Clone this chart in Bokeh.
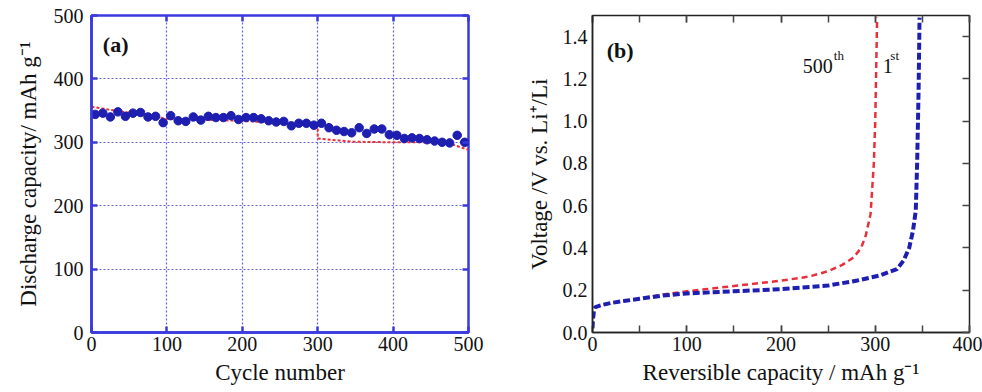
from bokeh.plotting import figure
from bokeh.layouts import row
from bokeh.models import Range1d, LinearAxis, FixedTicker, SingleIntervalTicker, PrintfTickFormatter
from bokeh.embed import file_html
from bokeh.resources import INLINE
from bokeh.core.properties import value

# ---------------- data: panel (a) ----------------
cycles = [5, 15, 25, 35, 45, 55, 65, 75, 85, 95,
          105, 115, 125, 135, 145, 155, 165, 175, 185, 195,
          205, 215, 225, 235, 245, 255, 265, 275, 285, 295,
          305, 315, 325, 335, 345, 355, 365, 375, 385, 395,
          405, 415, 425, 435, 445, 455, 465, 475, 485, 495]
discharge = [344, 346, 340, 348, 341, 346, 347, 340, 341, 331,
             342, 334, 333, 340, 335, 341, 339, 339, 342, 336,
             339, 339, 337, 334, 332, 333, 326, 330, 330, 327,
             330, 323, 319, 317, 315, 323, 314, 321, 321, 312,
             311, 306, 307, 306, 304, 302, 300, 299, 311, 300]
ref_cycles = [0, 100, 200, 300, 300, 345, 400, 470, 500]
ref_capacity = [356, 337, 334, 326, 306, 301, 300, 300, 288]

# ---------------- data: panel (b) ----------------
cap_500 = [0, 0.5, 1.5, 3, 10, 20, 35, 50, 75, 100, 150, 200, 230, 250, 265, 277, 285, 290, 295, 298.5, 300, 301, 302]
volt_500 = [0.02, 0.06, 0.10, 0.12, 0.13, 0.14, 0.15, 0.16, 0.18, 0.195, 0.22, 0.245, 0.265, 0.29, 0.32, 0.355, 0.40, 0.46, 0.56, 0.80, 1.0, 1.25, 1.49]
cap_1 = [0, 0.5, 1.5, 3, 10, 20, 35, 50, 75, 100, 150, 200, 250, 281, 305, 323, 330, 336, 340, 343, 344.5, 346, 347]
volt_1 = [0.02, 0.06, 0.10, 0.12, 0.13, 0.14, 0.15, 0.16, 0.175, 0.185, 0.195, 0.205, 0.222, 0.246, 0.27, 0.30, 0.34, 0.40, 0.48, 0.577, 0.81, 1.15, 1.49]

x_ticks_a = [0, 100, 200, 300, 400, 500]
y_ticks_a = [0, 100, 200, 300, 400, 500]
y_ticks_b = [0.0, 0.2, 0.4, 0.6, 0.8, 1.0, 1.2, 1.4]

SERIF = "Liberation Serif, Times New Roman, serif"
BLUE_FRAME = "#3a3adf"
BLUE_GRID = "#5050d8"
BLUE_MARK = "#1e1eb0"
RED = "#e8303a"


def blank_labels(ticks):
    return {t: "" for t in ticks}


# ---------------- panel (a) ----------------
p1 = figure(width=490, height=392, output_backend="svg", toolbar_location=None,
            x_range=Range1d(0, 500), y_range=Range1d(0, 500),
            min_border_left=91, min_border_right=22, min_border_top=14, min_border_bottom=59)
p1.outline_line_color = BLUE_FRAME
p1.outline_line_width = 2.5
p1.outline_line_alpha = 1

for ax in (p1.xaxis[0], p1.yaxis[0]):
    ax.axis_line_color = BLUE_FRAME
    ax.axis_line_width = 2.5
    ax.major_tick_line_color = BLUE_FRAME
    ax.major_tick_line_width = 2.5
    ax.major_tick_in = 6
    ax.major_tick_out = 0
    ax.minor_tick_line_color = None
    ax.major_label_text_font = SERIF
    ax.major_label_text_font_size = "20px"
    ax.major_label_text_color = "#111111"
    ax.axis_label_text_font = SERIF
    ax.axis_label_text_font_size = "23px"
    ax.axis_label_text_font_style = "normal"
    ax.axis_label_text_color = "#111111"
p1.xaxis.ticker = FixedTicker(ticks=x_ticks_a)
p1.yaxis.ticker = FixedTicker(ticks=y_ticks_a)
p1.xaxis.axis_label = "Cycle number"
p1.yaxis.axis_label = "Discharge capacity/ mAh g\u207b\u00b9"
p1.xaxis.major_label_standoff = 4
p1.yaxis.major_label_standoff = 8
p1.xaxis.axis_label_standoff = 6
p1.yaxis.axis_label_standoff = 10

for loc, tks in (("above", x_ticks_a), ("right", y_ticks_a)):
    extra = LinearAxis(ticker=FixedTicker(ticks=tks),
                       major_label_overrides=blank_labels(tks),
                       axis_line_color=None, minor_tick_line_color=None,
                       major_tick_in=6, major_tick_out=0,
                       major_tick_line_color=BLUE_FRAME, major_tick_line_width=2.5,
                       major_label_standoff=0)
    p1.add_layout(extra, loc)

p1.xgrid.ticker = FixedTicker(ticks=x_ticks_a)
p1.ygrid.ticker = FixedTicker(ticks=y_ticks_a)
p1.grid.grid_line_color = BLUE_GRID
p1.grid.grid_line_dash = "2 2"
p1.grid.grid_line_width = 1.2
p1.grid.grid_line_alpha = 0.9

p1.line(ref_cycles, ref_capacity, line_color=RED, line_width=2, line_dash="3 2")
p1.scatter(cycles, discharge, size=8.5, fill_color=BLUE_MARK, line_color=BLUE_MARK)
p1.text(x=[15], y=[454], text=["(a)"], text_font=value(SERIF), text_font_size="22px",
        text_font_style="bold", text_color="#111111", text_baseline="alphabetic")

# ---------------- panel (b) ----------------
p2 = figure(width=492, height=392, output_backend="svg", toolbar_location=None,
            x_range=Range1d(0, 400), y_range=Range1d(0, 1.5),
            min_border_left=102, min_border_right=13, min_border_top=15, min_border_bottom=60)
p2.outline_line_color = "#222222"
p2.outline_line_width = 1.5
p2.grid.grid_line_color = None

for ax in (p2.xaxis[0], p2.yaxis[0]):
    ax.axis_line_color = "#222222"
    ax.axis_line_width = 1.5
    ax.major_tick_line_color = "#444444"
    ax.major_tick_line_width = 1.5
    ax.minor_tick_line_color = "#444444"
    ax.minor_tick_line_width = 1.5
    ax.major_label_text_font = SERIF
    ax.major_label_text_font_size = "20px"
    ax.major_label_text_color = "#111111"
    ax.axis_label_text_font = SERIF
    ax.axis_label_text_font_size = "23px"
    ax.axis_label_text_font_style = "normal"
    ax.axis_label_text_color = "#111111"
p2.xaxis.ticker = SingleIntervalTicker(interval=100, num_minor_ticks=2)
p2.xaxis.major_tick_in = 7
p2.xaxis.major_tick_out = 0
p2.xaxis.minor_tick_in = 7
p2.xaxis.minor_tick_out = 0
p2.yaxis.ticker = FixedTicker(ticks=y_ticks_b)
p2.yaxis.formatter = PrintfTickFormatter(format="%.1f")
p2.yaxis.major_tick_in = 0
p2.yaxis.major_tick_out = 0
p2.yaxis.minor_tick_line_color = None
p2.xaxis.axis_label = "Reversible capacity / mAh g\u207b\u00b9"
p2.yaxis.axis_label = "Voltage /V vs. Li\u207a/Li"
p2.xaxis.major_label_standoff = 4
p2.yaxis.major_label_standoff = 5
p2.xaxis.axis_label_standoff = 6
p2.yaxis.axis_label_standoff = 8

top_ax = LinearAxis(ticker=SingleIntervalTicker(interval=100, num_minor_ticks=2),
                    major_label_overrides=blank_labels([0, 100, 200, 300, 400]),
                    axis_line_color=None,
                    major_tick_in=7, major_tick_out=0, minor_tick_in=7, minor_tick_out=0,
                    major_tick_line_color="#444444", minor_tick_line_color="#444444",
                    major_tick_line_width=1.5, minor_tick_line_width=1.5,
                    major_label_standoff=0)
p2.add_layout(top_ax, "above")
right_ax = LinearAxis(ticker=FixedTicker(ticks=y_ticks_b),
                      major_label_overrides=blank_labels(y_ticks_b),
                      axis_line_color=None,
                      major_tick_in=7, major_tick_out=0, minor_tick_line_color=None,
                      major_tick_line_color="#444444", major_tick_line_width=1.5,
                      major_label_standoff=0)
p2.add_layout(right_ax, "right")

p2.line(cap_500, volt_500, line_color=RED, line_width=2.5, line_dash="6 4")
p2.line(cap_1, volt_1, line_color=BLUE_MARK, line_width=4, line_dash="7 3")

p2.text(x=[15], y=[1.335], text=["(b)"], text_font=value(SERIF), text_font_size="22px",
        text_font_style="bold", text_color="#111111", text_baseline="alphabetic")
p2.text(x=[223], y=[1.262], text=["500"], text_font=value(SERIF), text_font_size="20px",
        text_color="#111111", text_baseline="alphabetic")
p2.text(x=[256], y=[1.31], text=["th"], text_font=value(SERIF), text_font_size="13px",
        text_color="#111111", text_baseline="alphabetic")
p2.text(x=[308], y=[1.262], text=["1"], text_font=value(SERIF), text_font_size="20px",
        text_color="#111111", text_baseline="alphabetic")
p2.text(x=[316], y=[1.31], text=["st"], text_font=value(SERIF), text_font_size="13px",
        text_color="#111111", text_baseline="alphabetic")

layout = row(p1, p2)
open("out.html", "w").write(file_html(layout, INLINE))
